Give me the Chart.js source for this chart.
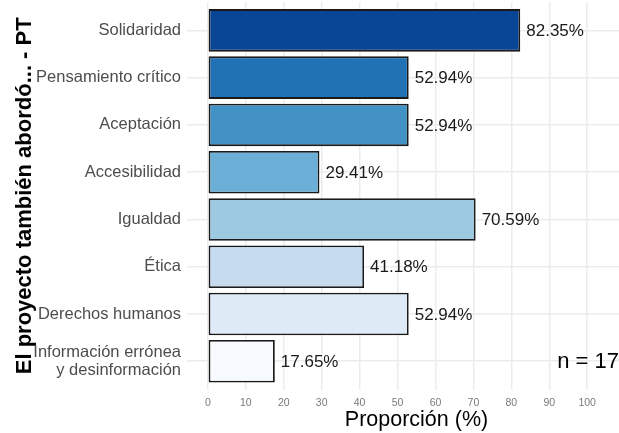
<html>
<script src="https://cdn.jsdelivr.net/npm/chart.js"></script>

<body style="margin:0;overflow:hidden;background:#fff">

    <canvas id="myChart" width="646" height="433"></canvas>

    <script>
        // data
        const categories = ["Solidaridad", "Pensamiento crítico", "Aceptación", "Accesibilidad", "Igualdad", "Ética", "Derechos humanos", ["Información errónea", "y desinformación"]];
        const values = [82.35, 52.94, 52.94, 29.41, 70.59, 41.18, 52.94, 17.65];
        const barColors = ["#084594", "#2171b5", "#4292c6", "#6baed6", "#9ecae1", "#c6dbef", "#deebf7", "#f7fbff"];
        const xTicks = [0, 10, 20, 30, 40, 50, 60, 70, 80, 90, 100];
        const sampleSize = 17;

        Chart.defaults.font.family = "'Liberation Sans', Arial, sans-serif";

        const points = values.map((v, i) => ({ x: v, y: i }));

        // labels at the end of each bar + the "n = 17" note
        const labelPlugin = {
            id: 'labels',
            afterDatasetsDraw(chart) {
                const ctx = chart.ctx;
                const meta = chart.getDatasetMeta(0);
                ctx.save();
                ctx.fillStyle = '#1a1a1a';
                ctx.font = "17px 'Liberation Sans', Arial, sans-serif";
                ctx.textBaseline = 'middle';
                ctx.textAlign = 'left';
                meta.data.forEach((bar, i) => {
                    ctx.fillText(values[i].toFixed(2) + '%', bar.x + 6, bar.y + 1);
                });
                const last = meta.data[meta.data.length - 1];
                ctx.fillStyle = '#000';
                ctx.font = "22px 'Liberation Sans', Arial, sans-serif";
                ctx.textAlign = 'right';
                ctx.fillText('n = ' + sampleSize, 619, last.y + 1);
                ctx.restore();
            }
        };

        // drop the extra room chart.js keeps for the edge labels
        function noPad(s) {
            s.paddingTop = 0;
            s.paddingBottom = 0;
            s.paddingLeft = 0;
            s.paddingRight = 0;
        }

        new Chart("myChart", {
            type: "bar",
            data: {
                datasets: [{
                    data: points,
                    backgroundColor: barColors,
                    borderColor: '#1a1a1a',
                    borderWidth: 1.8,
                    borderSkipped: false,
                    barPercentage: 0.9,
                    categoryPercentage: 1
                }]
            },
            options: {
                indexAxis: 'y',
                responsive: false,
                animation: false,
                layout: { padding: { top: 2, left: 0, right: 0, bottom: 0 } },
                plugins: {
                    legend: { display: false },
                    tooltip: { enabled: false }
                },
                scales: {
                    x: {
                        type: 'linear',
                        min: -5.5,
                        max: 115.5,
                        afterBuildTicks: s => { s.ticks = xTicks.map(v => ({ value: v })); },
                        afterFit: s => { noPad(s); s.height = 43.4; },
                        ticks: { color: '#7a7a7a', font: { size: 10.5 }, padding: 7, autoSkip: false, maxRotation: 0 },
                        grid: { color: '#ececec', lineWidth: 1.5, drawTicks: false },
                        border: { display: false },
                        title: {
                            display: true,
                            text: 'Proporción (%)',
                            color: '#000',
                            font: { size: 21.5 },
                            padding: { top: 1, bottom: 0 }
                        }
                    },
                    y: {
                        type: 'linear',
                        reverse: true,
                        offset: false,
                        min: -0.6,
                        max: 7.6,
                        afterBuildTicks: s => { s.ticks = categories.map((c, i) => ({ value: i })); },
                        afterFit: s => { noPad(s); s.width = 187; },
                        ticks: {
                            callback: v => categories[v],
                            color: '#4d4d4d',
                            font: { size: 16.5, lineHeight: 1.1 },
                            padding: 6,
                            autoSkip: false
                        },
                        grid: { color: '#ececec', lineWidth: 1.5, drawTicks: false, offset: false },
                        border: { display: false },
                        title: {
                            display: true,
                            text: 'El proyecto también abordó... - PT',
                            color: '#000',
                            font: { size: 22, weight: 'bold' },
                            padding: { top: 12, bottom: 0 }
                        }
                    }
                }
            },
            plugins: [labelPlugin]
        });
    </script>

</body>

</html>
